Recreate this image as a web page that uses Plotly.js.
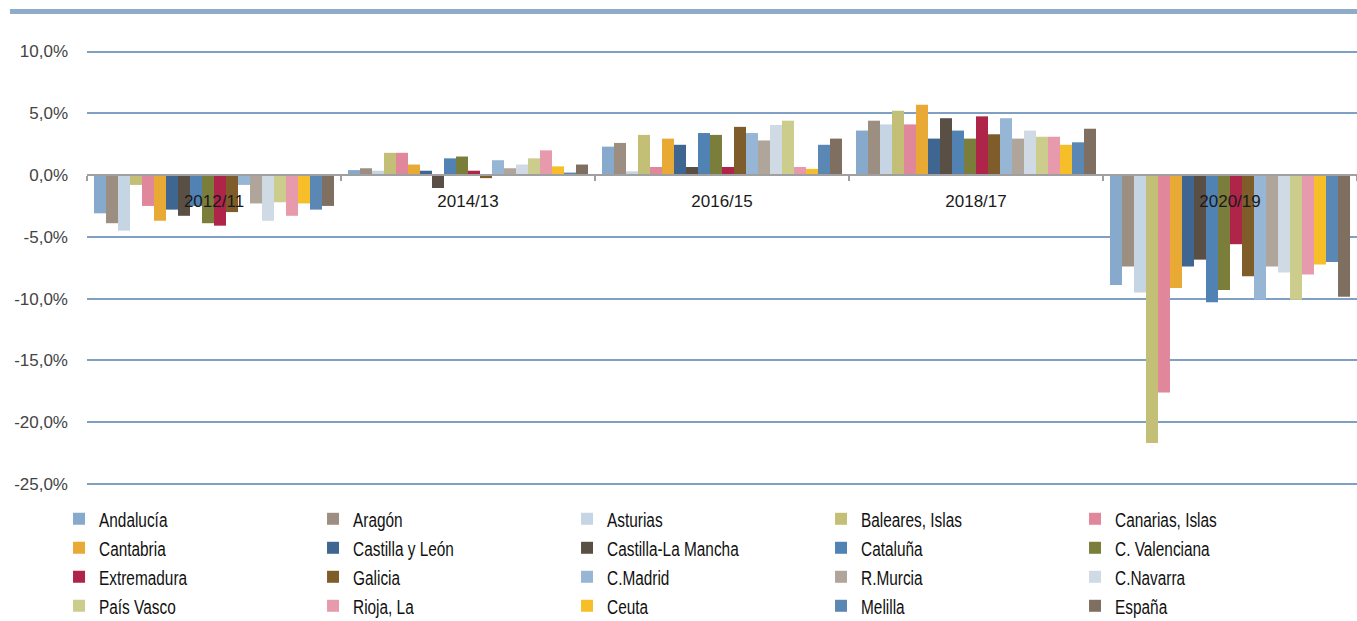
<!DOCTYPE html>
<html>
<head>
<meta charset="utf-8">
<script src="https://cdn.plot.ly/plotly-3.0.1.min.js"></script>
<style>
html,body{margin:0;padding:0;background:#fff;}
#chart .legendtext{transform-box:fill-box;transform-origin:0 50%;transform:scaleX(0.77);}
</style>
</head>
<body>
<div id="chart" style="width:1357px;height:621px;"></div>
<script>
// Categories (x axis)
const categories = ['2012/11', '2014/13', '2016/15', '2018/17', '2020/19'];

// Series values (% change)
const andalucia      = [-3.1, 0.40, 2.30, 3.60, -8.9];
const aragon         = [-3.9, 0.55, 2.60, 4.40, -7.4];
const asturias       = [-4.5, 0.35, 0.30, 4.10, -9.5];
const baleares       = [-0.8, 1.80, 3.25, 5.20, -21.7];
const canarias       = [-2.5, 1.80, 0.65, 4.10, -17.6];
const cantabria      = [-3.7, 0.85, 2.95, 5.70, -9.15];
const castillaLeon   = [-2.8, 0.35, 2.45, 2.95, -7.4];
const castillaMancha = [-3.3, -1.05, 0.65, 4.60, -6.85];
const cataluna       = [-2.5, 1.35, 3.40, 3.60, -10.3];
const valenciana     = [-3.9, 1.50, 3.25, 2.95, -9.3];
const extremadura    = [-4.1, 0.35, 0.65, 4.75, -5.6];
const galicia        = [-3.0, -0.25, 3.90, 3.30, -8.2];
const madrid         = [-0.8, 1.20, 3.40, 4.60, -10.1];
const murcia         = [-2.3, 0.55, 2.80, 2.95, -7.4];
const navarra        = [-3.7, 0.85, 4.05, 3.60, -7.9];
const paisVasco      = [-2.2, 1.35, 4.40, 3.10, -10.1];
const rioja          = [-3.3, 2.00, 0.65, 3.10, -8.05];
const ceuta          = [-2.3, 0.70, 0.50, 2.45, -7.25];
const melilla        = [-2.8, 0.20, 2.45, 2.65, -7.05];
const espana         = [-2.5, 0.85, 2.95, 3.75, -9.85];

// Series names and colours
const seriesNames = ['Andalucía', 'Aragón', 'Asturias', 'Baleares, Islas', 'Canarias, Islas',
  'Cantabria', 'Castilla y León', 'Castilla-La Mancha', 'Cataluña', 'C. Valenciana',
  'Extremadura', 'Galicia', 'C.Madrid', 'R.Murcia', 'C.Navarra',
  'País Vasco', 'Rioja, La', 'Ceuta', 'Melilla', 'España'];
const seriesValues = [andalucia, aragon, asturias, baleares, canarias,
  cantabria, castillaLeon, castillaMancha, cataluna, valenciana,
  extremadura, galicia, madrid, murcia, navarra,
  paisVasco, rioja, ceuta, melilla, espana];
const seriesColors = ['#87a9cb', '#9c8f82', '#c6d5e3', '#c3bf77', '#e0879b',
  '#e8a935', '#3e6690', '#5a4f44', '#5082b4', '#7b7e3a',
  '#ae2549', '#7e5d2a', '#97b5d4', '#b0a59a', '#cfdae5',
  '#cccc8d', '#e79aab', '#f6bf29', '#5a87b4', '#7f6f60'];

// Y axis ticks
const yTickVals = [10, 5, 0, -5, -10, -15, -20, -25];
const yTickText = ['10,0%', '5,0%', '0,0%', '-5,0%', '-10,0%', '-15,0%', '-20,0%', '-25,0%'];

const yMin = -25.5, yMax = 13.2;

const traces = seriesNames.map((name, i) => ({
  type: 'bar',
  name: name,
  x: categories,
  y: seriesValues[i],
  marker: {color: seriesColors[i], line: {width: 0}},
  hoverinfo: 'name+y'
}));

const layout = {
  width: 1357,
  height: 621,
  margin: {l: 87, r: 0, t: 12, b: 131, pad: 0},
  paper_bgcolor: '#ffffff',
  plot_bgcolor: '#ffffff',
  barmode: 'group',
  bargap: 0.055,
  bargroupgap: 0,
  showlegend: true,
  font: {family: 'Liberation Sans, Arial, sans-serif', color: '#222'},
  xaxis: {
    type: 'category',
    anchor: 'free',
    position: (0 - yMin) / (yMax - yMin),
    showline: true,
    linecolor: '#a0a0a0',
    linewidth: 2,
    ticks: 'outside',
    tickson: 'boundaries',
    ticklen: 5,
    tickcolor: '#a0a0a0',
    tickwidth: 1.5,
    ticklabelstandoff: 11,
    showgrid: false,
    zeroline: false,
    tickfont: {family: 'Liberation Sans, Arial, sans-serif', size: 17, color: '#1a1a1a'},
    layer: 'above traces',
    fixedrange: true
  },
  yaxis: {
    range: [yMin, yMax],
    tickmode: 'array',
    tickvals: yTickVals,
    ticktext: yTickText,
    showgrid: true,
    gridcolor: '#7f9fc3',
    gridwidth: 2,
    zeroline: false,
    showline: false,
    ticks: '',
    ticklabelstandoff: 18,
    tickfont: {family: 'Liberation Sans, Arial, sans-serif', size: 17, color: '#444'},
    fixedrange: true
  },
  legend: {
    orientation: 'h',
    xref: 'container',
    x: 0.0435,
    xanchor: 'left',
    yref: 'container',
    y: 0.196,
    yanchor: 'top',
    entrywidth: 209,
    traceorder: 'normal',
    font: {family: 'Liberation Sans, Arial, sans-serif', size: 20, color: '#111'},
    bgcolor: 'rgba(0,0,0,0)',
    itemclick: false,
    itemdoubleclick: false
  },
  shapes: [{
    type: 'line',
    xref: 'paper', yref: 'paper',
    x0: -0.0606, x1: 1.0, y0: 1.001, y1: 1.001,
    line: {color: '#8eabca', width: 5}
  }]
};

Plotly.newPlot('chart', traces, layout, {displayModeBar: false, staticPlot: true});
</script>
</body>
</html>
